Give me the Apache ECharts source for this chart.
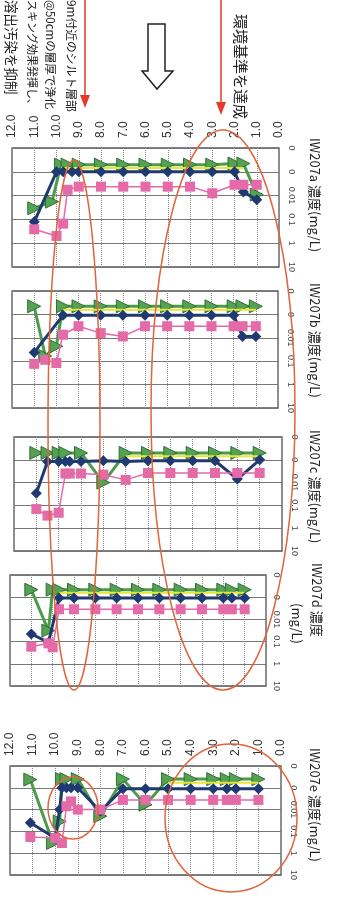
<!DOCTYPE html>
<html><head><meta charset="utf-8">
<script src="https://cdn.jsdelivr.net/npm/echarts@6/dist/echarts.min.js"></script>
<style>html,body{margin:0;padding:0;background:#fff}#c{width:342px;height:900px}</style>
</head><body><div id="c"></div>
<script>
// tick labels
const depthTickLabels = ['0.0','1.0','2.0','3.0','4.0','5.0','6.0','7.0','8.0','9.0','10.0','11.0','12.0'];
const concTickLabels = ['0','0','0.01','0.1','1','10'];
const panelNames = ['IW207a','IW207b','IW207c','IW207d','IW207e'];

// IW207a
const depthA  = [11.0, 10.2, 10.0, 9.8, 9.7, 9.5, 9.3, 9.0, 8.0, 7.0, 6.0, 5.0, 4.0, 3.0, 2.0, 1.6, 1.0];
const greenA  = [0.034, 0.018, null, 0.0005, null, 0.0005, null, 0.0005, 0.0005, 0.0005, 0.0005, 0.0005, 0.0005, 0.0005, 0.00045, 0.00045, 0.009];
const navyA   = [0.126, null, 0.001, null, 0.001, null, 0.001, 0.001, 0.001, 0.001, 0.001, 0.001, 0.001, 0.001, 0.001, 0.007, 0.015];
const pinkA   = [0.26, null, 0.5, null, 0.15, 0.0057, null, 0.0042, 0.0042, 0.0042, 0.0042, 0.0042, 0.0042, 0.008, 0.0035, 0.0035, 0.0035];
const yellowA = [null, null, null, 0.0007, null, 0.0007, null, 0.0007, 0.0007, 0.0007, 0.0007, 0.0007, 0.0007, 0.0007, 0.0007, 0.0007, null];

// IW207b
const depthB  = [11.0, 10.5, 10.0, 9.7, 9.0, 8.0, 7.0, 6.0, 5.0, 4.0, 3.0, 2.0, 1.6, 1.0];
const greenB  = [0.00045, 0.06, 0.023, 0.00045, 0.00045, 0.00045, 0.00045, 0.00045, 0.00045, 0.00045, 0.00045, 0.00045, 0.00045, 0.00045];
const navyB   = [0.042, null, null, 0.0011, 0.0011, 0.0011, 0.0011, 0.0011, 0.0011, 0.0011, 0.0011, 0.0011, 0.0087, 0.0087];
const pinkB   = [0.13, 0.087, 0.12, 0.0074, 0.0032, 0.0063, 0.0087, 0.0032, 0.0032, 0.0032, 0.0032, 0.0032, 0.0032, 0.0032];
const yellowB = [null, null, null, 0.00063, 0.00063, 0.00063, 0.00063, 0.00063, 0.00063, 0.00063, 0.00063, 0.00063, 0.00063, 0.00063];

// IW207c
const depthC  = [11.0, 10.5, 10.0, 9.7, 9.5, 9.0, 8.0, 7.0, 6.0, 5.0, 4.0, 3.0, 2.0, 1.0];
const greenC  = [0.0005, 0.0005, 0.0005, 0.0005, null, 0.0005, 0.01, 0.0005, 0.0005, 0.0005, 0.0005, 0.0005, 0.0005, 0.0005];
const navyC   = [0.029, 0.0012, 0.0012, 0.0012, 0.0012, 0.0012, 0.0011, 0.0012, 0.0011, 0.0011, 0.0011, 0.0011, 0.007, 0.001];
const pinkC   = [0.145, 0.28, 0.21, 0.004, 0.004, 0.004, 0.0045, 0.0076, 0.0038, 0.0038, 0.0038, 0.0038, 0.0038, 0.0038];
const yellowC = [null, null, null, null, null, null, null, 0.0007, 0.0007, 0.0007, 0.0007, 0.0007, 0.0007, 0.0007];

// IW207d
const depthD  = [11.0, 10.2, 10.0, 9.7, 9.0, 8.0, 7.0, 6.0, 5.0, 4.0, 3.0, 2.0, 1.6, 1.0];
const greenD  = [0.00046, 0.032, 0.00046, 0.00046, 0.00046, 0.00046, 0.00046, 0.00046, 0.00046, 0.00046, 0.00046, 0.00046, 0.00046, 0.00046];
const navyD   = [0.045, 0.11, null, 0.0011, 0.0011, 0.0011, 0.0011, 0.0011, 0.0011, 0.0011, 0.0011, 0.0011, 0.0011, 0.0011];
const pinkD   = [0.17, 0.12, 0.18, 0.0035, 0.0035, 0.0035, 0.0035, 0.0035, 0.0035, 0.0035, 0.0035, 0.0035, 0.0035, 0.0035];
const yellowD = [null, null, null, 0.00063, 0.00063, 0.00063, 0.00063, 0.00063, 0.00063, 0.00063, 0.00063, 0.00063, 0.00063, 0.00063];

// IW207e
const depthE  = [11.1, 10.1, 10.0, 9.8, 9.7, 9.5, 9.3, 9.0, 8.0, 7.0, 6.0, 5.0, 4.0, 3.0, 2.4, 2.0, 1.0];
const greenE  = [0.00042, 0.34, null, 0.035, 0.0004, 0.0004, null, 0.0004, 0.02, 0.0004, 0.006, 0.0004, 0.0004, 0.0004, 0.0004, 0.0004, 0.0004];
const navyE   = [0.04, null, 0.2, 0.01, 0.001, 0.001, 0.001, 0.001, 0.012, 0.0011, 0.0011, 0.0011, 0.0011, 0.0011, 0.0011, 0.0011, 0.0011];
const pinkE   = [0.18, null, 0.2, null, 0.34, 0.007, 0.0042, 0.01, 0.01, 0.0036, 0.0036, 0.0036, 0.0036, 0.0036, 0.0036, 0.0036, 0.0036];
const yellowE = [null, null, null, null, null, null, null, null, null, null, null, 0.00058, 0.00058, 0.00058, 0.00058, 0.00058, 0.00058];

const panels = [
  {depth: depthA, yellow: yellowA, green: greenA, navy: navyA, pink: pinkA, box: [12, 148, 267, 119], showDepth: true,  labelMargin: 8},
  {depth: depthB, yellow: yellowB, green: greenB, navy: navyB, pink: pinkB, box: [12, 291, 266, 117], showDepth: false, labelMargin: 8},
  {depth: depthC, yellow: yellowC, green: greenC, navy: navyC, pink: pinkC, box: [14, 437, 268, 114], showDepth: false, labelMargin: 8},
  {depth: depthD, yellow: yellowD, green: greenD, navy: navyD, pink: pinkD, box: [10, 575, 256, 111], showDepth: false, labelMargin: 6},
  {depth: depthE, yellow: yellowE, green: greenE, navy: navyE, pink: pinkE, box: [10, 766, 271, 109], showDepth: true,  labelMargin: 8}
];

const series = [];
panels.forEach((p, i) => {
  const mk = arr => p.depth.map((d, j) => [d, arr[j]]);
  series.push({type: 'line', xAxisIndex: i, yAxisIndex: i, data: mk(p.yellow), connectNulls: true,
    symbol: 'none', lineStyle: {color: '#e8e636', width: 2}, z: 4});
  series.push({type: 'line', xAxisIndex: i, yAxisIndex: i, data: mk(p.green), connectNulls: true,
    symbol: 'triangle', symbolSize: 13, symbolRotate: -90,
    lineStyle: {color: '#4b9b4b', width: 3}, itemStyle: {color: '#55a352', borderColor: '#2f6f36', borderWidth: 1}, z: 3});
  series.push({type: 'line', xAxisIndex: i, yAxisIndex: i, data: mk(p.navy), connectNulls: true,
    symbol: 'diamond', symbolSize: 11,
    lineStyle: {color: '#1f3a70', width: 3}, itemStyle: {color: '#1f3a70'}, z: 5});
  series.push({type: 'line', xAxisIndex: i, yAxisIndex: i, data: mk(p.pink), connectNulls: true,
    symbol: 'rect', symbolSize: 10,
    lineStyle: {color: '#e46aa8', width: 1.5}, itemStyle: {color: '#e46aa8'}, z: 6});
});

const JP = '"Noto Sans CJK JP", sans-serif';
function vtext(x, y, txt, size, align) {
  return {type: 'text', x: x, y: y, rotation: -Math.PI / 2, z: 50,
    style: {text: txt, fontSize: size, fontFamily: JP, fill: '#222', align: align, verticalAlign: 'middle'}};
}
const graphic = [
  // panel titles
  vtext(315, 138, panelNames[0] + ' 濃度(mg/L)', 13, 'left'),
  vtext(315, 283, panelNames[1] + ' 濃度(mg/L)', 13, 'left'),
  vtext(315, 430, panelNames[2] + ' 濃度(mg/L)', 13, 'left'),
  vtext(317, 563, panelNames[3] + ' 濃度', 13, 'left'),
  vtext(297, 603, '(mg/L)', 13, 'left'),
  vtext(315, 748, panelNames[4] + ' 濃度(mg/L)', 13, 'left'),
  // annotations
  vtext(241, 119, '環境基準を達成', 15, 'right'),
  vtext(71, 0, '9m付近のシルト層部', 11.8, 'left'),
  vtext(50, 0, '@50cmの層厚で浄化', 11.5, 'left'),
  vtext(32, 0, 'スキング効果発揮し、', 11, 'left'),
  vtext(11, 0, '溶出汚染を抑制', 13.5, 'left'),
  // red arrows
  {type: 'line', z: 60, shape: {x1: 85, y1: 0, x2: 85, y2: 97}, style: {stroke: '#e5392b', lineWidth: 1.5}},
  {type: 'polygon', z: 60, shape: {points: [[80, 95], [90, 95], [85, 108]]}, style: {fill: '#e5392b'}},
  {type: 'line', z: 60, shape: {x1: 221, y1: 0, x2: 221, y2: 104}, style: {stroke: '#e5392b', lineWidth: 1.5}},
  {type: 'polygon', z: 60, shape: {points: [[216, 102], [226, 102], [221, 115]]}, style: {fill: '#e5392b'}},
  // hollow arrow
  {type: 'polygon', z: 60, shape: {points: [[148, 24], [165, 24], [165, 71], [173, 71], [157, 89], [142, 71], [148, 71]]},
    style: {fill: '#fff', stroke: '#222', lineWidth: 1.5}},
  // ellipses
  {type: 'ellipse', z: 70, shape: {cx: 223, cy: 410, rx: 72, ry: 280}, style: {fill: 'none', stroke: '#e0643c', lineWidth: 1.5}},
  {type: 'ellipse', z: 70, shape: {cx: 74, cy: 425, rx: 26, ry: 265}, style: {fill: 'none', stroke: '#e0643c', lineWidth: 1.5}},
  {type: 'ellipse', z: 70, shape: {cx: 73, cy: 808, rx: 25, ry: 31}, style: {fill: 'none', stroke: '#e0643c', lineWidth: 1.5}},
  {type: 'ellipse', z: 70, shape: {cx: 231, cy: 818, rx: 66, ry: 74}, style: {fill: 'none', stroke: '#e0643c', lineWidth: 1.5}}
];

const option = {
  animation: false,
  backgroundColor: '#fff',
  grid: panels.map(p => ({left: p.box[0], top: p.box[1], width: p.box[2], height: p.box[3],
    show: true, borderColor: '#555', borderWidth: 1.3, backgroundColor: 'transparent'})),
  xAxis: panels.map((p, i) => ({gridIndex: i, type: 'value', min: 0, max: 12, interval: 1, inverse: true, position: 'top',
    axisLine: {show: false}, axisTick: {show: false},
    splitLine: {show: true, lineStyle: {type: 'dotted', color: '#8a8a8a', width: 1}},
    axisLabel: {show: p.showDepth, rotate: -90, margin: 10, fontSize: 12, color: '#333', fontFamily: '"Liberation Sans", Arial',
      showMinLabel: true, showMaxLabel: true, hideOverlap: false,
      formatter: v => depthTickLabels[Math.round(v)]}})),
  yAxis: panels.map((p, i) => ({gridIndex: i, type: 'log', logBase: 10, min: 0.0001, max: 10, inverse: true, position: 'right',
    axisLine: {show: false}, axisTick: {show: false},
    splitLine: {show: true, lineStyle: {color: '#777', width: 1}},
    axisLabel: {rotate: -90, margin: p.labelMargin, fontSize: 9, color: '#444', fontFamily: '"Liberation Sans", Arial',
      showMinLabel: true, showMaxLabel: true, hideOverlap: false,
      formatter: v => concTickLabels[Math.round(Math.log10(v)) + 4]}})),
  series: series,
  graphic: graphic
};
const chart = echarts.init(document.getElementById('c'), null, {renderer: 'canvas'});
chart.setOption(option);
</script>
</body></html>
